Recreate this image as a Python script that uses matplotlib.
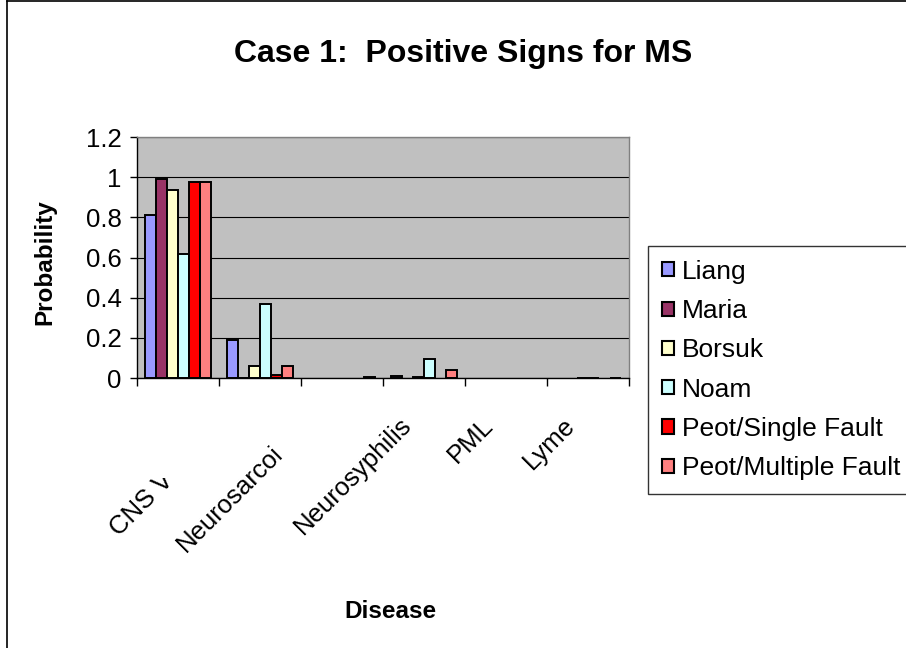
import matplotlib
matplotlib.use("Agg")
import matplotlib.pyplot as plt
import matplotlib.transforms as mtransforms
from matplotlib.lines import Line2D
from matplotlib.patches import Patch
import numpy as np

plt.rcParams['font.family'] = ['Liberation Sans', 'DejaVu Sans']

# data
categories = ["CNS V", "Neurosarcoi", "", "Neurosyphilis", "PML", "Lyme"]
series_names = ["Liang", "Maria", "Borsuk", "Noam", "Peot/Single Fault", "Peot/Multiple Fault"]
liang = [0.81, 0.187, 0.0, 0.012, 0.0, 0.0]
maria = [0.99, 0.002, 0.0, 0.0, 0.0, 0.0]
borsuk = [0.935, 0.06, 0.0, 0.005, 0.0, 0.002]
noam = [0.615, 0.368, 0.0, 0.095, 0.0, 0.002]
peot_single = [0.978, 0.016, 0.0, 0.0, 0.0, 0.0]
peot_multiple = [0.978, 0.06, 0.003, 0.04, 0.0, 0.002]
series = [liang, maria, borsuk, noam, peot_single, peot_multiple]
colors = ["#9999FF", "#993366", "#FFFFCC", "#CCFFFF", "#FF0000", "#FF8080"]
yticks = [0, 0.2, 0.4, 0.6, 0.8, 1, 1.2]
ytick_labels = ["0", "0.2", "0.4", "0.6", "0.8", "1", "1.2"]

W, H = 906, 648
fig = plt.figure(figsize=(W / 100, H / 100), dpi=100)

# plot area in pixels: x 137..629, y 137..378
ax = fig.add_axes([137 / W, 1 - 378 / H, 492 / W, 241 / H])
ax.set_facecolor("#C0C0C0")

n_cat = len(categories)
bar_w = 1 / 7.5  # gap width 150%
x = np.arange(n_cat)
for i, vals in enumerate(series):
    vals = np.array(vals)
    pos = x - 0.5 + 0.75 / 7.5 + (i + 0.5) * bar_w
    keep = vals > 0
    ax.bar(pos[keep], vals[keep], width=bar_w, color=colors[i],
           edgecolor="black", linewidth=1.4, zorder=3)

ax.set_xlim(-0.5, n_cat - 0.5)
ax.set_ylim(0, 1.2)
ax.set_yticks(yticks)
ax.set_yticklabels(ytick_labels, fontsize=18.5)
ax.yaxis.grid(True, color="black", linewidth=0.8, zorder=1)
ax.set_axisbelow(True)

ax.set_xticks(x)
ax.set_xticklabels(categories, fontsize=18.5, rotation=45, ha="right",
                   rotation_mode="anchor")
ax.set_xticks(np.arange(n_cat + 1) - 0.5, minor=True)
ax.tick_params(axis="x", which="major", length=0, pad=25)
ax.tick_params(axis="x", which="minor", length=6, width=1, direction="out")
ax.tick_params(axis="y", length=5, width=1, direction="out", pad=6)

# Excel puts the rotated labels left of the category centre;
# the two truncated ones sit lower
extra = {0: (8, -55), 1: (36, -29)}
for k, lab in enumerate(ax.get_xticklabels()):
    dx, dy = extra.get(k, (0, 0))
    off = mtransforms.ScaledTranslation((-25 + dx) / 100, dy / 100, fig.dpi_scale_trans)
    lab.set_transform(lab.get_transform() + off)
# the "V" of the first label is cut off in the original
ax.get_xticklabels()[0].set_clip_box(mtransforms.Bbox([[0, 0], [W, H - 478]]))
ax.get_xticklabels()[0].set_clip_on(True)

for side in ["top", "right"]:
    ax.spines[side].set_color("#808080")
    ax.spines[side].set_linewidth(1)
for side in ["left", "bottom"]:
    ax.spines[side].set_color("black")
    ax.spines[side].set_linewidth(1)

fig.text(463 / W, 1 - 54 / H, "Case 1:  Positive Signs for MS", fontsize=23,
         fontweight="bold", ha="center", va="center")
fig.text(390 / W, 1 - 612 / H, "Disease", fontsize=17.5, fontweight="bold",
         ha="center", va="center")
fig.text(45 / W, 1 - 262 / H, "Probability", fontsize=17.5, fontweight="bold",
         ha="center", va="center", rotation=90)

handles = [Patch(facecolor=c, edgecolor="black", linewidth=1.5) for c in colors]
leg = fig.legend(handles, series_names, loc="upper left",
                 bbox_to_anchor=(648 / W, 1 - 246 / H), fontsize=19,
                 frameon=True, fancybox=False, shadow=False,
                 handlelength=0.45, handleheight=0.45, handletextpad=0.3,
                 labelspacing=0.58, borderpad=0.52, borderaxespad=0)
leg.get_frame().set_edgecolor("black")
leg.get_frame().set_linewidth(1)

# chart area border (left and top visible)
fig.add_artist(Line2D([7 / W, 7 / W], [0, 1 - 1 / H], color="black", linewidth=1.2))
fig.add_artist(Line2D([7 / W, 1], [1 - 1 / H, 1 - 1 / H], color="black", linewidth=1.2))

fig.savefig("out.png", dpi=100)
